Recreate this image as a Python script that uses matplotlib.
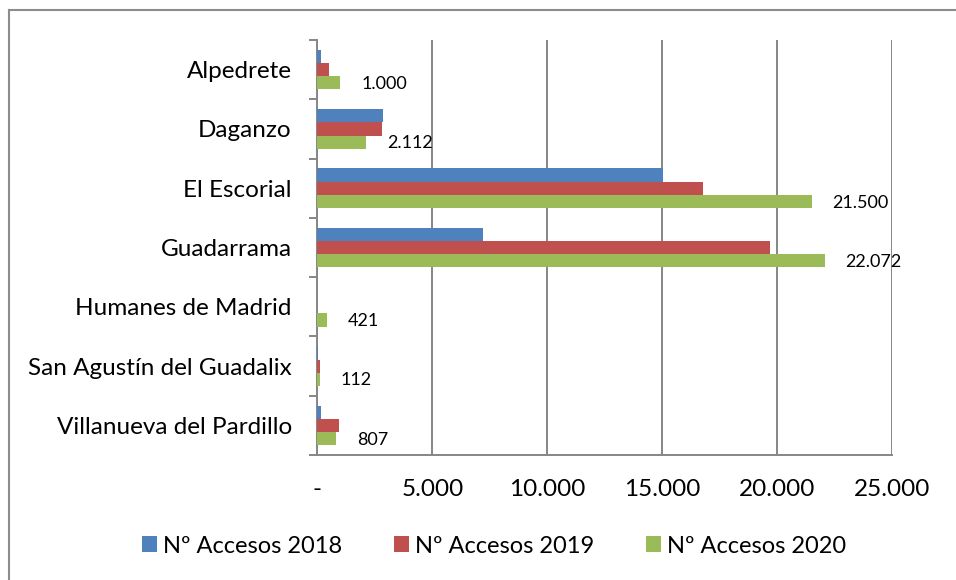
import numpy as np
import matplotlib
matplotlib.use("Agg")
from matplotlib import pyplot as plt
from matplotlib.lines import Line2D
from matplotlib.ticker import FuncFormatter

plt.rcParams['font.family'] = ['Lato', 'DejaVu Sans']

# Data
municipios = ["Alpedrete", "Daganzo", "El Escorial", "Guadarrama",
              "Humanes de Madrid", "San Agustín del Guadalix", "Villanueva del Pardillo"]
accesos_2018 = [170, 2840, 15030, 7210, 0, 40, 170]
accesos_2019 = [480, 2800, 16780, 19710, 0, 100, 920]
accesos_2020 = [1000, 2112, 21500, 22072, 421, 112, 807]
series_labels = ["Nº Accesos 2018", "Nº Accesos 2019", "Nº Accesos 2020"]
colors = ["#4f81bd", "#c0504d", "#9bbb59"]
xticks = [0, 5000, 10000, 15000, 20000, 25000]

fig = plt.figure(figsize=(9.56, 5.8), dpi=100)
ax = fig.add_axes([0.3321, 0.2155, 0.601, 0.7155])

#Chart frame (only top and left edges are inside the picture)
for xs, ys in [([0.0095, 1.0], [0.983, 0.983]), ([0.0095, 0.0095], [0.0, 0.983])]:
    fig.lines.append(Line2D(xs, ys, transform=fig.transFigure, color="#8c8c8c", linewidth=1.5))

y = np.arange(len(municipios))
h = 0.222
for i, (vals, lab, col) in enumerate(zip([accesos_2018, accesos_2019, accesos_2020], series_labels, colors)):
    ax.barh(y + (i - 1) * h, vals, height=h, color=col, label=lab, zorder=3)

#Data labels only for 2020
for yi, v in zip(y, accesos_2020):
    txt = "{:,}".format(v).replace(",", ".")
    ax.annotate(txt, (v, yi + h + 0.02), xytext=(15, 0), textcoords="offset points",
                ha="left", va="center", fontsize=13, zorder=4)

ax.set_ylim(len(municipios) - 0.5, -0.5)
ax.set_xlim(0, 25000)
ax.set_yticks(y)
ax.set_yticklabels(municipios, fontsize=17.5)
ax.set_yticks(np.arange(-0.5, len(municipios), 1), minor=True)
ax.tick_params(axis="y", which="major", length=0, pad=18.5)
ax.tick_params(axis="y", which="minor", length=6, color="#868686", width=1.4, direction="out")

ax.set_xticks(xticks)
ax.xaxis.set_major_formatter(FuncFormatter(lambda v, p: "-" if v == 0 else "{:,.0f}".format(v).replace(",", ".")))
ax.tick_params(axis="x", length=0, labelsize=17.5, pad=17)

ax.grid(axis="x", color="#868686", linewidth=1.4, zorder=0)
for s in ["top", "right"]:
    ax.spines[s].set_visible(False)
for s in ["left", "bottom"]:
    ax.spines[s].set_color("#868686")
    ax.spines[s].set_linewidth(1.4)

fig.legend(loc="center", bbox_to_anchor=(0.517, 0.0586), ncol=3, frameon=False,
           fontsize=17, handlelength=0.64, handleheight=0.64, handletextpad=0.25, columnspacing=2.2)

plt.savefig("out.png", dpi=100)
plt.close()
